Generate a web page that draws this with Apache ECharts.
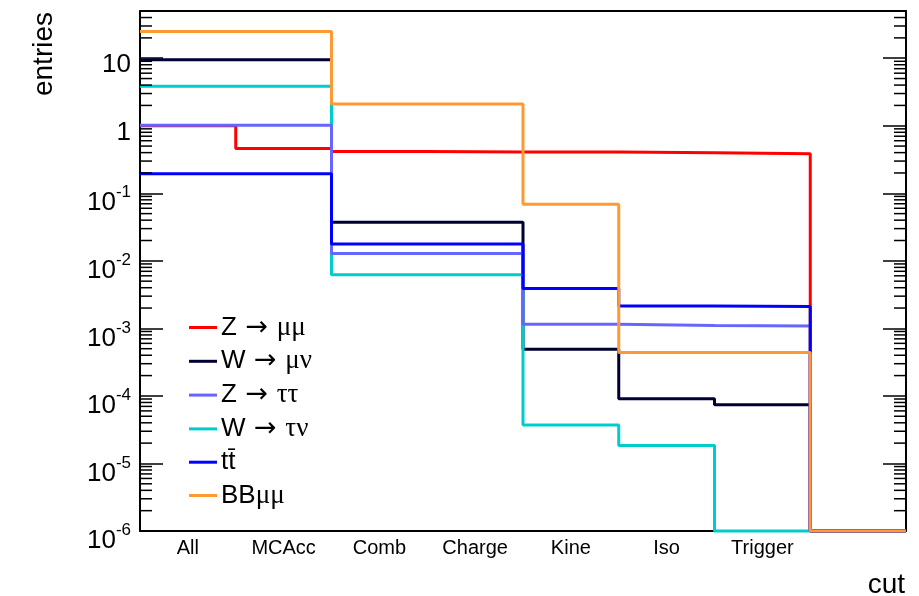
<!DOCTYPE html>
<html>
<head>
<meta charset="utf-8">
<script src="https://cdn.jsdelivr.net/npm/echarts@6/dist/echarts.min.js"></script>
<style>
  html, body { margin: 0; padding: 0; background: #fff; }
  #chart { width: 919px; height: 596px; }
</style>
</head>
<body>
<div id="chart"></div>
<script>
// Cut-flow: entries surviving each selection step, per process
const cuts = ['All', 'MCAcc', 'Comb', 'Charge', 'Kine', 'Iso', 'Trigger', ''];

const zmumu   = [1.0,  0.46, 0.415,  0.41,   0.41,    0.40,    0.385,   0];
const wmunu   = [9.5,  9.5,  0.0374, 0.0374, 4.9e-4,  9.1e-5,  7.4e-5,  0];
const ztautau = [1.02, 1.02, 0.0128, 0.0128, 1.15e-3, 1.10e-3, 1.08e-3, 0];
const wtaunu  = [3.83, 3.83, 6.2e-3, 6.2e-3, 3.7e-5,  1.84e-5, 0,       0];
const ttbar   = [0.195,0.195,0.0177, 0.0177, 3.9e-3,  2.15e-3, 2.1e-3,  0];
const bbmumu  = [24.9, 24.9, 2.1,    2.1,    0.069,   4.4e-4,  4.4e-4,  0];

const names  = ['Z → μμ', 'W → μν', 'Z → ττ', 'W → τν', 'tt̄', 'BBμμ'];
const colors = ['#ff0000', '#000033', '#6666ff', '#00cccc', '#0000ff', '#ff9933'];
const values = [zmumu, wmunu, ztautau, wtaunu, ttbar, bbmumu];

// y range of the log axis
const Y_MIN = 1e-6;
const Y_MAX = 50;

// draw order (later ones on top)
const drawOrder = [0, 1, 3, 2, 4, 5];

const FONT = 'Liberation Sans, Arial, Helvetica, sans-serif';
const GREEK = 'Liberation Serif, DejaVu Serif, serif';

// histogram outline: each bin value held across the bin, empty bins sit on the floor
function histPoints(vals) {
  const pts = vals.map((v, i) => [i, Math.max(v, Y_MIN)]);
  pts.push([vals.length, Math.max(vals[vals.length - 1], Y_MIN)]);
  return pts;
}

// minor log ticks 2..9 of each decade
const minorTicks = [];
for (let e = -6; e <= 1; e++) {
  for (let m = 2; m <= 9; m++) {
    const v = m * Math.pow(10, e);
    if (v < Y_MAX) minorTicks.push([0, v]);
  }
}

function yLabel(v) {
  const lg = Math.log10(v);
  const e = Math.round(lg);
  if (Math.abs(lg - e) > 1e-6) return '';
  if (e === 0) return '{p|1}';
  if (e === 1) return '{p|10}';
  return '{b|10}{s|' + e + '}';
}

const yRich = {
  p: { fontSize: 26, fontFamily: FONT, color: '#000', lineHeight: 26 },
  b: { fontSize: 26, fontFamily: FONT, color: '#000', lineHeight: 32, verticalAlign: 'bottom' },
  s: { fontSize: 17, fontFamily: FONT, color: '#000', lineHeight: 10, verticalAlign: 'top' }
};

function legendText(name) {
  return name
    .replace(' → ', '{a| → }')
    .replace(/([μντ]+)/, '{g|$1}');
}

const lineSeries = drawOrder.map(k => ({
  name: names[k],
  type: 'line',
  xAxisIndex: 2,
  yAxisIndex: 0,
  step: 'end',
  symbol: 'none',
  clip: false,
  color: colors[k],
  lineStyle: { color: colors[k], width: 3 },
  data: histPoints(values[k]),
  z: 3
}));

const chart = echarts.init(document.getElementById('chart'), null, { renderer: 'canvas' });

chart.setOption({
  animation: false,
  backgroundColor: '#fff',
  grid: { left: 140, right: 13, top: 11, bottom: 65, containLabel: false },
  xAxis: [
    {
      type: 'category', data: cuts, position: 'bottom', boundaryGap: true,
      axisLine: { lineStyle: { color: '#000', width: 2 } },
      axisTick: { inside: true, length: 15, lineStyle: { color: '#666', width: 2 } },
      axisLabel: { color: '#000', fontSize: 20, fontFamily: FONT, margin: 7 },
      splitLine: { show: false }
    },
    {
      type: 'category', data: cuts, position: 'top', boundaryGap: true,
      axisLine: { lineStyle: { color: '#000', width: 2 } },
      axisTick: { inside: true, length: 15, lineStyle: { color: '#666', width: 2 } },
      axisLabel: { show: false },
      splitLine: { show: false }
    },
    {
      type: 'value', min: 0, max: cuts.length, show: false
    }
  ],
  yAxis: [
    {
      type: 'log', logBase: 10, min: Y_MIN, max: Y_MAX, splitNumber: 8,
      position: 'left',
      axisLine: { show: true, lineStyle: { color: '#000', width: 2 } },
      axisTick: { show: true, inside: true, length: 23, lineStyle: { color: '#000', width: 1.5 } },
      axisLabel: {
        show: true, margin: 9, padding: [14, 0, 0, 0],
        formatter: yLabel, rich: yRich
      },
      splitLine: { show: false }
    },
    {
      type: 'log', logBase: 10, min: Y_MIN, max: Y_MAX, splitNumber: 8,
      position: 'right',
      axisLine: { show: true, lineStyle: { color: '#000', width: 2 } },
      axisTick: { show: true, inside: true, length: 23, lineStyle: { color: '#000', width: 1.5 } },
      axisLabel: { show: false },
      splitLine: { show: false }
    }
  ],
  legend: {
    orient: 'vertical',
    left: 184, top: 309,
    itemWidth: 28, itemHeight: 3, itemGap: 6.8,
    icon: 'rect',
    data: names,
    formatter: legendText,
    textStyle: {
      fontSize: 26, fontFamily: FONT, color: '#000', lineHeight: 25, padding: [0, 0, 0, -1],
      rich: {
        a: { fontSize: 27, fontFamily: 'DejaVu Sans', color: '#000', lineHeight: 25 },
        g: { fontSize: 27, fontFamily: GREEK, color: '#000', lineHeight: 25 }
      }
    }
  },
  graphic: [
    {
      type: 'text', x: 44, y: 12, rotation: Math.PI / 2,
      style: { text: 'entries', fontSize: 28, fontFamily: FONT, fill: '#000', align: 'right', verticalAlign: 'middle' }
    },
    {
      type: 'text', x: 905, y: 585,
      style: { text: 'cut', fontSize: 28, fontFamily: FONT, fill: '#000', align: 'right', verticalAlign: 'middle' }
    }
  ],
  series: lineSeries.concat([{
    type: 'custom',
    name: 'minorTicks',
    xAxisIndex: 2,
    yAxisIndex: 0,
    silent: true,
    clip: false,
    z: 4,
    renderItem: function (params, api) {
      const v = api.value(1);
      const pL = api.coord([0, v]);
      const pR = api.coord([cuts.length, v]);
      return {
        type: 'group',
        children: [
          { type: 'line', shape: { x1: pL[0], y1: pL[1], x2: pL[0] + 12, y2: pL[1] }, style: { stroke: '#000', lineWidth: 1.5 } },
          { type: 'line', shape: { x1: pR[0] - 12, y1: pR[1], x2: pR[0], y2: pR[1] }, style: { stroke: '#000', lineWidth: 1.5 } }
        ]
      };
    },
    data: minorTicks
  }])
});
</script>
</body>
</html>
